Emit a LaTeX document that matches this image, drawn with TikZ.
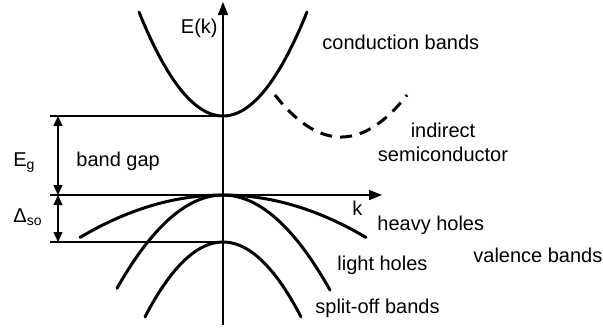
\documentclass[tikz,border=0pt]{standalone}
\usepackage{fontspec}
\setmainfont{Liberation Sans}
\usepackage{tikz}
\usetikzlibrary{arrows.meta}

\begin{document}
\begin{tikzpicture}[x=0.5pt, y=-0.5pt, font=\fontsize{10}{12}\selectfont,
  band/.style={line width=1.5pt, line cap=round},
  level/.style={line width=0.6pt},
  lbl/.style={inner sep=0pt, anchor=base west},
  gaparrow/.style={line width=0.7pt, {Triangle[length=5pt,width=4.5pt]}-{Triangle[length=5pt,width=4.5pt]}}]
  \useasboundingbox (0,0) rectangle (603,329);
  % axes
  \coordinate (origin) at (223,195);
  \coordinate (ktop) at (223,2);
  \coordinate (kbot) at (223,325);
  \coordinate (kleft) at (50,195);
  \coordinate (kright) at (382,195);
  \draw[line width=0.75pt, -{Triangle[length=6.5pt,width=5pt]}] (kbot) -- (ktop);
  \draw[line width=0.75pt, -{Triangle[length=6.5pt,width=5pt]}] (kleft) -- (kright);
  \node[inner sep=0pt, anchor=base east] (ek) at (218,33) {E(k)};
  \node[lbl] (k) at (352,215) {k};
  % band edges
  \coordinate (cbmin) at (223,116);
  \coordinate (cbleft) at (50,116);
  \coordinate (soleft) at (50,242);
  \coordinate (sotop) at (223,242);
  \draw[level] (cbleft) -- (cbmin);
  \draw[level] (soleft) -- (sotop);
  % gap arrows
  \coordinate (eg1) at (58,116);
  \coordinate (eg2) at (58,195);
  \coordinate (so2) at (58,242);
  \draw[gaparrow] (eg1) -- (eg2);
  \draw[gaparrow] (eg2) -- (so2);
  \node[lbl] (eg) at (13,166) {E\textsubscript{g}};
  \node[lbl] (gap) at (76,166) {band gap};
  \node[lbl] (dso) at (13,222) {Δ\textsubscript{so}};
  % conduction band (direct)
  \draw[band, samples=60, domain=139:307]
    plot (\x, {116 - 0.01474*(\x-223)*(\x-223)});
  % conduction band (indirect)
  \draw[band, line cap=butt, dash pattern=on 6pt off 4pt, samples=60, domain=275:407]
    plot (\x, {137 - 0.00964*(\x-341)*(\x-341)});
  % valence bands
  \draw[band, samples=60, domain=80:366]
    plot (\x, {195 + 0.00207*(\x-223)*(\x-223)});
  \draw[band, samples=60, domain=117:330]
    plot (\x, {195 + 0.0083*(\x-223)*(\x-223)});
  \draw[band, samples=60, domain=145:301]
    plot (\x, {242 + 0.0123*(\x-223)*(\x-223)});
  % labels
  \node[lbl] (cb) at (322,49) {conduction bands};
  \node[inner sep=0pt, anchor=base] (ind1) at (443,137) {indirect};
  \node[inner sep=0pt, anchor=base] (ind2) at (443,161) {semiconductor};
  \node[lbl] (hh) at (377,230) {heavy holes};
  \node[lbl] (lh) at (337,270) {light holes};
  \node[lbl] (vb) at (473,262) {valence bands};
  \node[lbl] (so) at (315,313) {split-off bands};
\end{tikzpicture}
\end{document}
